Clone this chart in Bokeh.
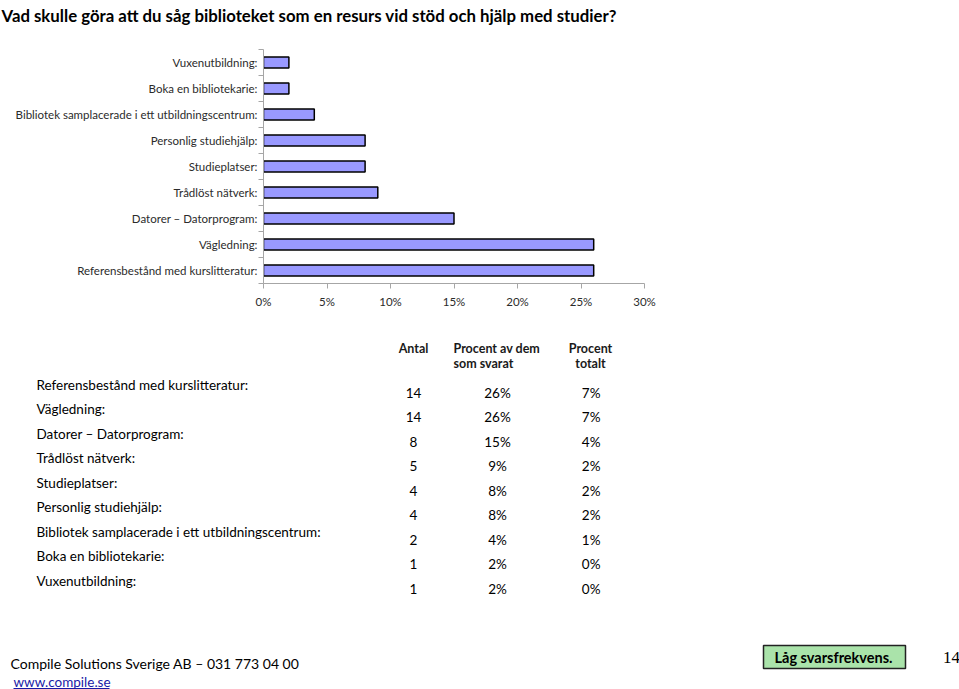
import numpy as np
from bokeh.plotting import figure
from bokeh.layouts import column, row
from bokeh.models import Range1d, FixedTicker, NumeralTickFormatter, ColumnDataSource
from bokeh.core.properties import value
from bokeh.embed import file_html
from bokeh.resources import INLINE

# ---------------- data ----------------
title_text = "Vad skulle göra att du såg biblioteket som en resurs vid stöd och hjälp med studier?"
categories = [
    "Referensbestånd med kurslitteratur:",
    "Vägledning:",
    "Datorer – Datorprogram:",
    "Trådlöst nätverk:",
    "Studieplatser:",
    "Personlig studiehjälp:",
    "Bibliotek samplacerade i ett utbildningscentrum:",
    "Boka en bibliotekarie:",
    "Vuxenutbildning:",
]
antal = [14, 14, 8, 5, 4, 4, 2, 1, 1]
pct_svarat = [26, 26, 15, 9, 8, 8, 4, 2, 2]
pct_totalt = [7, 7, 4, 2, 2, 2, 1, 0, 0]
x_ticks = [0, 5, 10, 15, 20, 25, 30]
hdr_antal = "Antal"
hdr_svarat = ["Procent av dem", "som svarat"]
hdr_totalt = ["Procent", "totalt"]
footer_company = "Compile Solutions Sverige AB – 031 773 04 00"
footer_url = "www.compile.se"
note_text = "Låg svarsfrekvens."
page_no = "14"

FONT = "Lato"
n = len(categories)

# ---------------- title strip ----------------
ft = figure(width=959, height=30, x_range=Range1d(0, 959), y_range=Range1d(30, 0),
            output_backend="svg", toolbar_location=None, min_border=0,
            x_axis_location=None, y_axis_location=None)
ft.outline_line_color = None
ft.grid.visible = False
ft.text(x=[1], y=[14.5], text=[title_text], text_font=value(FONT), text_font_size="16.8px",
        text_font_style="bold", text_baseline="alphabetic", text_align="left", text_color="#000000")

# ---------------- bar chart ----------------
ypos = list(range(1, n + 1))
src = ColumnDataSource(dict(y=ypos, v=[v / 100 for v in pct_svarat]))
fb = figure(width=959, height=290, x_range=Range1d(0, 0.30), y_range=Range1d(0.5, n + 0.5),
            output_backend="svg", toolbar_location=None,
            min_border_left=263, min_border_right=315, min_border_top=19, min_border_bottom=37)
fb.hbar(y="y", right="v", left=0, height=0.42, source=src,
        fill_color="#9999FF", line_color="#000000", line_width=1.5)
fb.outline_line_color = None
fb.grid.visible = False

ax = fb.xaxis[0]
ax.ticker = FixedTicker(ticks=[t / 100 for t in x_ticks], minor_ticks=[])
ax.formatter = NumeralTickFormatter(format="0%")
ax.axis_line_color = "#a6a6a6"
ax.major_tick_line_color = "#a6a6a6"
ax.major_tick_out = 5
ax.major_tick_in = 0
ax.minor_tick_line_color = None
ax.major_label_text_font = FONT
ax.major_label_text_font_size = "11.5px"
ax.major_label_text_color = "#2b2b2b"
ax.major_label_standoff = 6

ay = fb.yaxis[0]
ay.ticker = FixedTicker(ticks=ypos, minor_ticks=[y - 0.5 for y in ypos] + [n + 0.5])
ay.major_label_overrides = {y: c for y, c in zip(ypos, categories)}
ay.axis_line_color = "#a6a6a6"
ay.major_tick_line_color = None
ay.major_tick_out = 0
ay.major_tick_in = 0
ay.minor_tick_line_color = "#a6a6a6"
ay.minor_tick_out = 5
ay.minor_tick_in = 0
ay.major_label_text_font = FONT
ay.major_label_text_font_size = "11.5px"
ay.major_label_text_color = "#2b2b2b"
ay.major_label_standoff = 1

# ---------------- table + footer ----------------
fr = figure(width=959, height=369, x_range=Range1d(0, 959), y_range=Range1d(689, 320),
            output_backend="svg", toolbar_location=None, min_border=0,
            x_axis_location=None, y_axis_location=None)
fr.outline_line_color = None
fr.grid.visible = False

hdr_kw = dict(text_font=value(FONT), text_font_size="12.5px", text_font_style="bold",
              text_baseline="middle", text_color="#1a1a1a")
fr.text(x=[413], y=[348], text=[hdr_antal], text_align="center", **hdr_kw)
fr.text(x=[453, 453], y=[348, 362.5], text=hdr_svarat, text_align="left", **hdr_kw)
fr.text(x=[590, 590], y=[348, 362.5], text=hdr_totalt, text_align="center", **hdr_kw)

label_y = 384 + 24.5 * np.arange(n)
value_y = 392 + 24.5 * np.arange(n)
row_kw = dict(text_font=value(FONT), text_font_size="13.5px", text_baseline="middle",
              text_color="#000000")
fr.text(x=np.full(n, 36), y=label_y, text=categories, text_align="left", **row_kw)
fr.text(x=np.full(n, 413), y=value_y, text=[str(a) for a in antal], text_align="center", **row_kw)
fr.text(x=np.full(n, 497), y=value_y, text=[f"{v}%" for v in pct_svarat], text_align="center", **row_kw)
fr.text(x=np.full(n, 600), y=value_y, text=[f"{v}%" for v in pct_totalt], text_align="right", **row_kw)

# footer
fr.text(x=[10], y=[663], text=[footer_company], text_font=value(FONT), text_font_size="14px",
        text_baseline="middle", text_align="left", text_color="#000000")
fr.text(x=[13], y=[681], text=[footer_url], text_font=value(FONT), text_font_size="13.5px",
        text_baseline="middle", text_align="left", text_color="#1a1aa6")
fr.segment(x0=[13], y0=[688], x1=[109], y1=[688], line_color="#1a1aa6", line_width=1)

fr.quad(left=[763], right=[905], top=[645], bottom=[668], fill_color="#aae3aa",
        line_color="#222222", line_width=1.5)
fr.text(x=[833], y=[657], text=[note_text], text_font=value(FONT), text_font_size="14.5px",
        text_font_style="bold", text_baseline="middle", text_align="center", text_color="#000000")
fr.text(x=[951], y=[657], text=[page_no], text_font=value("Liberation Serif"), text_font_size="17px",
        text_baseline="middle", text_align="center", text_color="#000000")

layout = column(ft, row(fb), fr, spacing=0)
open("out.html", "w").write(file_html(layout, INLINE))
